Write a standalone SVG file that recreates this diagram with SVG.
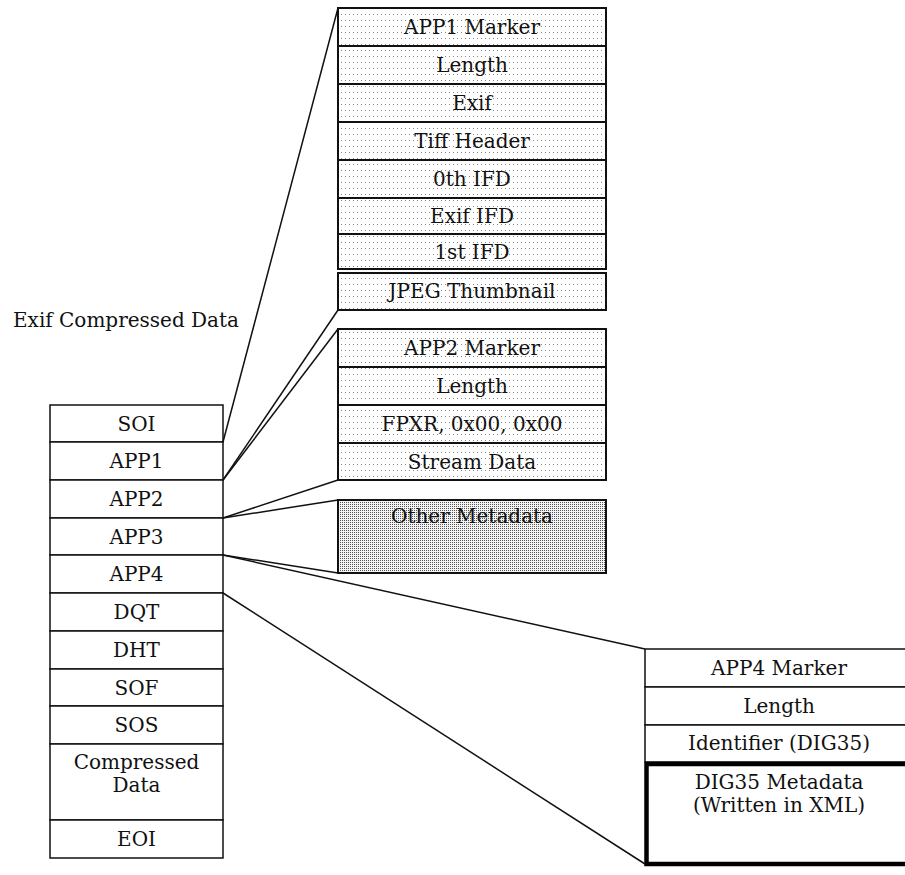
<svg xmlns="http://www.w3.org/2000/svg" width="905" height="875" viewBox="0 0 905 875">
<style>
text{font-family:"DejaVu Serif","Liberation Serif",serif;font-size:20px;fill:#111;text-anchor:middle}
.cell{fill:#fff;stroke:#111;stroke-width:1.5}
.dot{fill:url(#dots);stroke:#111;stroke-width:2}
.dense{fill:url(#dense);stroke:#111;stroke-width:2}
.conn line{stroke:#111;stroke-width:1.5;fill:none}
.thick{fill:#fff;stroke:#000;stroke-width:4.5}
</style>
<defs>
<pattern id="dots" width="4" height="6" patternUnits="userSpaceOnUse"><rect width="4" height="6" fill="#fff"/><rect x="1" y="2" width="1" height="1" fill="#888"/></pattern>
<pattern id="dense" width="2" height="2" patternUnits="userSpaceOnUse"><rect width="2" height="2" fill="#f4f4f4"/><rect x="0" y="0" width="1" height="1" fill="#555"/></pattern>
</defs>
<rect width="905" height="875" fill="#fff"/>
<text id="title" x="126" y="327">Exif Compressed Data</text>
<g id="jpeg-stream">
<g id="soi"><rect class="cell" x="50" y="405" width="173" height="37"/><text x="136.5" y="431">SOI</text></g>
<g id="app1"><rect class="cell" x="50" y="442" width="173" height="38"/><text x="136.5" y="468">APP1</text></g>
<g id="app2"><rect class="cell" x="50" y="480" width="173" height="38"/><text x="136.5" y="506">APP2</text></g>
<g id="app3"><rect class="cell" x="50" y="518" width="173" height="37"/><text x="136.5" y="544">APP3</text></g>
<g id="app4"><rect class="cell" x="50" y="555" width="173" height="38"/><text x="136.5" y="581">APP4</text></g>
<g id="dqt"><rect class="cell" x="50" y="593" width="173" height="38"/><text x="136.5" y="619">DQT</text></g>
<g id="dht"><rect class="cell" x="50" y="631" width="173" height="38"/><text x="136.5" y="657">DHT</text></g>
<g id="sof"><rect class="cell" x="50" y="669" width="173" height="37"/><text x="136.5" y="695">SOF</text></g>
<g id="sos"><rect class="cell" x="50" y="706" width="173" height="38"/><text x="136.5" y="732">SOS</text></g>
<g id="compressed"><rect class="cell" x="50" y="744" width="173" height="76"/><text x="136.5" y="769">Compressed</text><text x="136.5" y="792">Data</text></g>
<g id="eoi"><rect class="cell" x="50" y="820" width="173" height="38"/><text x="136.5" y="846">EOI</text></g>
</g>
<g id="app1-detail">
<g id="app1-marker"><rect class="dot" x="338" y="8" width="268" height="38"/><text x="472" y="34">APP1 Marker</text></g>
<g id="app1-length"><rect class="dot" x="338" y="46" width="268" height="38"/><text x="472" y="72">Length</text></g>
<g id="app1-exif"><rect class="dot" x="338" y="84" width="268" height="38"/><text x="472" y="110">Exif</text></g>
<g id="tiff-header"><rect class="dot" x="338" y="122" width="268" height="38"/><text x="472" y="148">Tiff Header</text></g>
<g id="ifd0"><rect class="dot" x="338" y="160" width="268" height="38"/><text x="472" y="186">0th IFD</text></g>
<g id="exif-ifd"><rect class="dot" x="338" y="198" width="268" height="36"/><text x="472" y="223">Exif IFD</text></g>
<g id="ifd1"><rect class="dot" x="338" y="234" width="268" height="35"/><text x="472" y="259">1st IFD</text></g>
<g id="thumbnail"><rect class="dot" x="338" y="273" width="268" height="37"/><text x="472" y="298">JPEG Thumbnail</text></g>
</g>
<g id="app2-detail">
<g id="app2-marker"><rect class="dot" x="338" y="329" width="268" height="38"/><text x="472" y="355">APP2 Marker</text></g>
<g id="app2-length"><rect class="dot" x="338" y="367" width="268" height="38"/><text x="472" y="393">Length</text></g>
<g id="fpxr"><rect class="dot" x="338" y="405" width="268" height="38"/><text x="472" y="431">FPXR, 0x00, 0x00</text></g>
<g id="stream-data"><rect class="dot" x="338" y="443" width="268" height="37"/><text x="472" y="469">Stream Data</text></g>
</g>
<g id="other-metadata"><rect class="dense" x="338" y="500" width="268" height="73"/><text x="472" y="523">Other Metadata</text></g>
<g id="app4-detail">
<g id="app4-marker"><rect class="cell" x="645" y="649" width="270" height="38"/><text x="779" y="675">APP4 Marker</text></g>
<g id="app4-length"><rect class="cell" x="645" y="687" width="270" height="38"/><text x="779" y="713">Length</text></g>
<g id="identifier"><rect class="cell" x="645" y="725" width="270" height="37"/><text x="779" y="750">Identifier (DIG35)</text></g>
<g id="dig35"><rect class="thick" x="646.5" y="764" width="270" height="100"/><text x="779" y="789">DIG35 Metadata</text><text x="779" y="812">(Written in XML)</text></g>
</g>
<g id="connectors" class="conn">
<line x1="223" y1="442" x2="338" y2="8"/>
<line x1="223" y1="480" x2="338" y2="310"/>
<line x1="223" y1="480" x2="338" y2="329"/>
<line x1="223" y1="518" x2="338" y2="480"/>
<line x1="223" y1="518" x2="338" y2="500"/>
<line x1="223" y1="555" x2="338" y2="573"/>
<line x1="223" y1="555" x2="645" y2="649"/>
<line x1="223" y1="593" x2="645" y2="864"/>
</g>
</svg>
